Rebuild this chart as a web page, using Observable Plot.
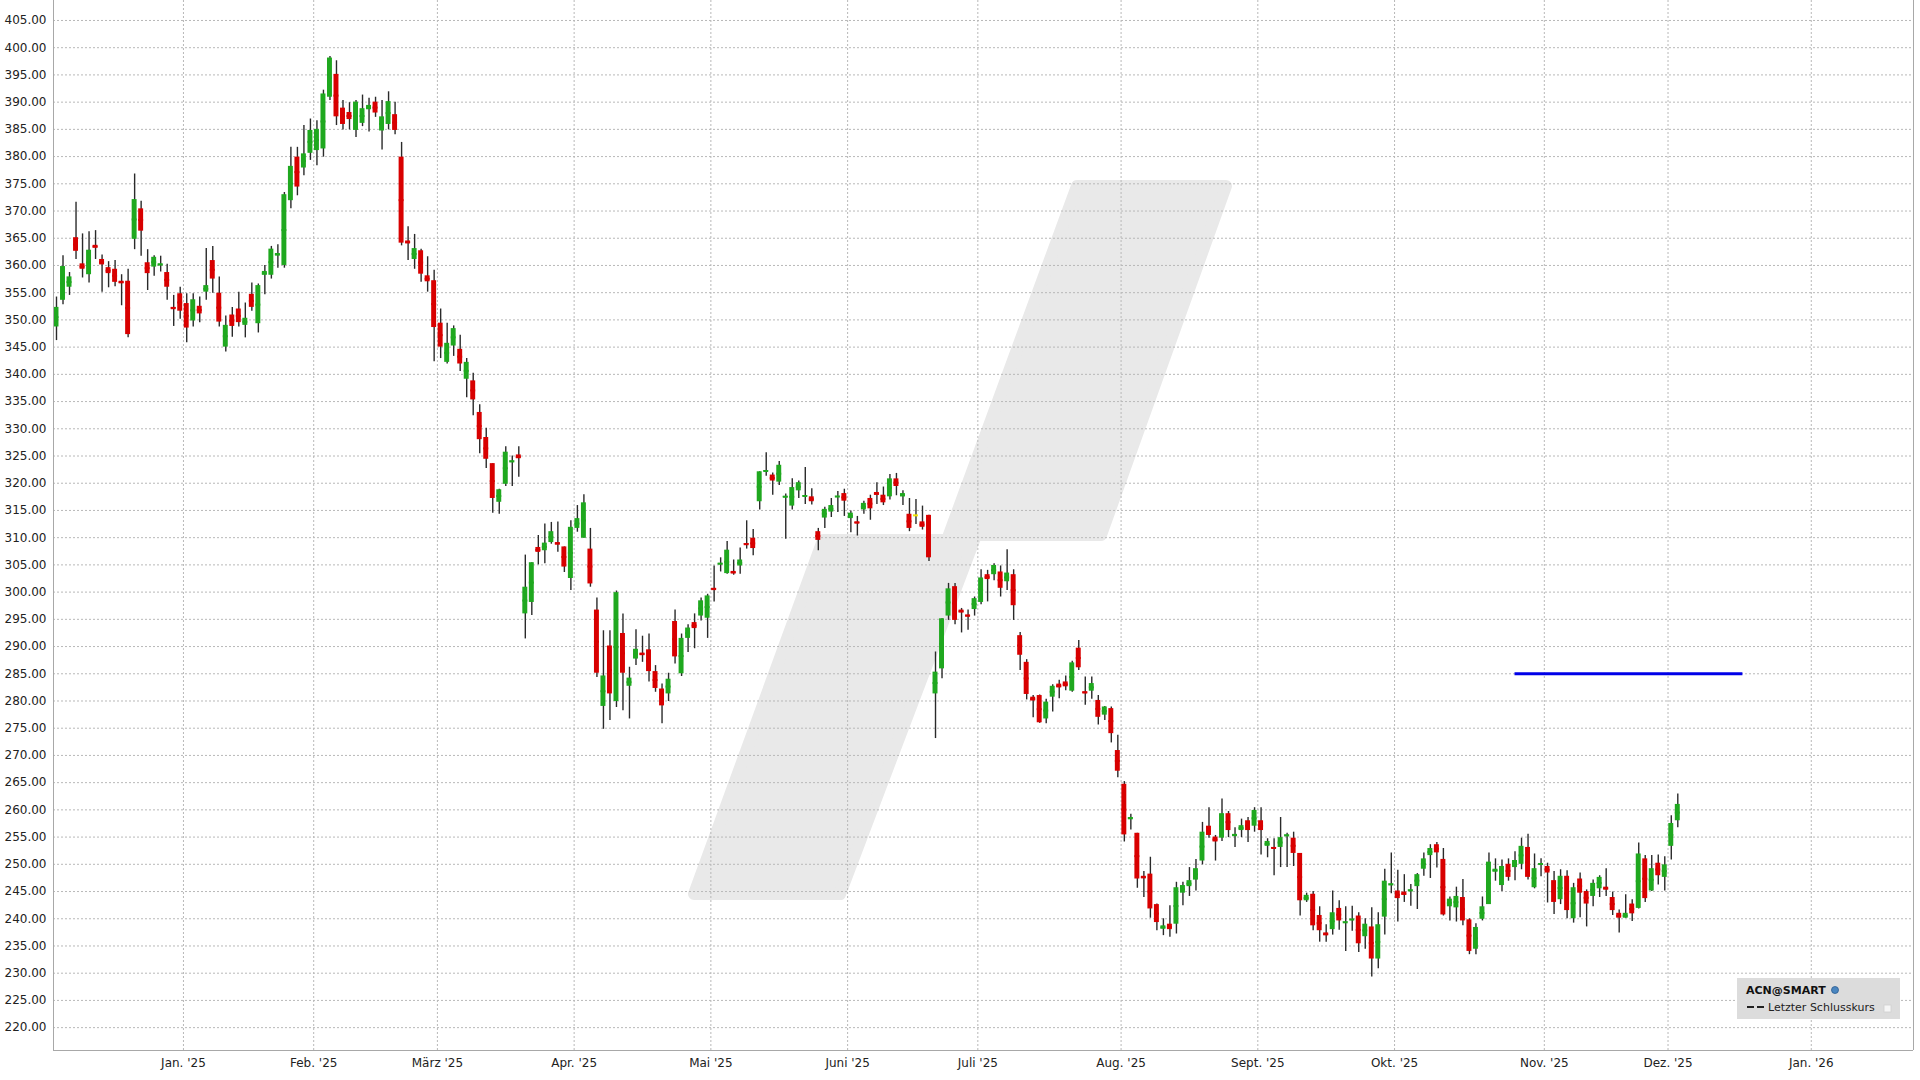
<!DOCTYPE html>
<html>
<head>
<meta charset="utf-8">
<script src="https://cdn.jsdelivr.net/npm/d3@7"></script>
<script src="https://cdn.jsdelivr.net/npm/@observablehq/plot@0.6"></script>
<style>
  html, body { margin: 0; padding: 0; background: #ffffff; overflow: hidden; }
  #chart { width: 1920px; height: 1080px; }
</style>
</head>
<body>
<div id="chart"></div>
<script>
// ---- DATA: daily candles (trading-day index 0 = 3 Dec 2024 ... 249 = 2 Dec 2025) ----
const open = [
  348.7,353.6,356.0,365.1,360.3,358.3,363.7,361.1,359.6,359.3,357.1,357.1,364.8,370.4,360.5,359.7,360.0,358.7,352.3,354.8,
  353.0,349.8,352.5,355.1,360.9,354.9,345.0,350.9,352.0,349.0,354.7,349.3,358.2,358.2,361.8,360.0,371.9,379.9,377.9,380.6,
  381.1,381.4,390.9,395.1,388.9,388.1,384.8,386.1,388.6,390.0,384.7,385.9,387.7,379.9,364.5,361.1,362.7,358.1,357.2,
  349.4,342.2,345.2,344.6,339.1,338.8,333.0,328.4,323.6,316.5,319.8,323.9,325.2,296.0,298.1,308.2,307.6,309.1,309.1,308.3,302.5,
  311.7,309.9,307.9,296.7,279.0,290.1,279.9,292.4,282.7,287.7,288.8,289.4,285.4,282.2,281.3,294.6,285.0,291.5,294.4,295.6,295.2,
  300.7,305.1,303.4,303.8,304.8,308.9,309.9,316.6,322.2,321.5,320.2,317.4,315.8,318.6,317.6,317.5,311.1,313.6,314.7,317.5,318.1,
  313.5,312.9,315.1,317.2,318.3,317.8,317.5,320.8,317.5,314.3,314.1,312.9,314.1,281.3,285.9,295.6,301.0,296.7,295.8,296.8,
  298.1,303.2,303.2,303.7,301.9,303.2,292.0,287.1,280.7,281.0,276.7,280.7,283.1,283.5,281.8,289.7,281.7,281.8,280.1,277.4,278.6,270.9,
  264.7,258.3,255.7,247.8,248.2,242.6,238.1,239.0,239.0,244.7,245.9,247.1,250.6,257.0,255.0,254.8,259.3,255.2,256.2,258.0,257.0,
  258.0,253.3,253.1,253.1,255.2,254.8,252.0,243.3,244.5,240.6,237.4,238.0,241.9,239.3,239.8,240.5,236.7,238.5,232.6,240.3,246.2,
  245.1,244.9,245.1,245.9,249.1,251.6,253.6,250.9,242.2,242.0,243.9,239.8,234.4,239.9,242.6,248.6,246.1,250.0,249.4,250.0,253.1,245.7,250.0,
  249.6,247.0,243.5,247.8,240.0,247.3,245.0,244.1,245.5,245.8,243.9,241.0,240.1,242.7,241.9,251.0,245.1,250.2,247.6,
  253.3,258.0
];
const high = [
  354.2,361.8,358.7,371.6,365.8,366.2,366.4,361.9,360.7,360.9,358.3,359.3,376.8,371.8,362.9,361.8,361.7,360.2,354.5,356.0,
  354.8,354.8,354.2,363.1,363.5,357.9,350.7,352.3,355.1,353.1,356.8,356.6,360.0,363.5,363.8,373.4,381.7,381.7,385.7,386.9,
  386.6,392.2,398.4,397.6,390.3,389.9,390.3,391.3,390.7,390.9,390.3,391.9,390.0,382.6,367.1,365.7,363.0,361.6,359.1,
  352.0,349.4,348.9,347.2,342.9,340.2,334.4,330.1,323.6,318.9,326.7,325.0,326.7,306.8,305.4,310.4,312.5,312.8,312.9,308.3,313.1,
  315.9,317.9,311.7,298.9,292.9,292.9,300.2,296.0,286.2,293.1,291.9,292.3,286.5,283.1,285.1,296.7,292.3,294.0,296.0,298.9,299.6,
  304.8,306.3,309.3,305.9,308.1,313.1,311.5,322.1,325.6,321.9,324.0,318.0,320.8,320.4,322.9,319.0,311.7,315.6,317.2,318.5,318.9,
  314.9,313.9,316.7,317.8,320.1,319.3,321.6,321.8,318.6,317.2,317.0,315.8,314.1,289.0,295.1,301.6,301.6,297.0,296.7,299.1,
  304.1,304.0,305.2,304.8,307.8,304.1,292.6,287.6,281.0,281.1,280.3,283.0,283.8,284.6,287.3,291.1,284.4,284.4,281.0,279.0,278.9,273.7,
  265.2,259.2,255.7,248.7,251.3,242.7,240.0,242.4,246.7,246.7,249.4,250.9,257.7,260.4,255.3,262.0,259.7,256.7,258.3,258.6,260.4,
  260.4,254.7,254.7,258.6,255.7,255.9,252.0,244.7,245.0,242.2,238.9,245.1,243.3,242.2,242.3,241.1,240.0,242.0,241.1,249.1,252.1,
  248.9,248.1,246.3,248.3,252.1,253.6,254.0,252.9,244.0,245.8,247.2,240.0,239.1,244.0,252.1,251.0,250.8,251.0,252.3,254.8,255.5,251.9,251.0,
  250.2,248.7,249.0,248.8,246.5,248.4,245.3,247.1,247.9,249.2,244.9,241.6,244.4,243.5,253.9,251.6,251.6,251.7,251.4,
  258.9,262.9
];
const low = [
  346.2,352.8,354.5,361.1,357.7,356.8,361.1,355.1,355.9,356.1,352.6,346.7,362.9,361.7,355.4,358.0,358.8,353.6,348.8,350.1,
  345.8,348.7,349.5,353.6,354.9,348.7,344.1,346.8,348.7,346.7,351.6,347.6,354.6,357.5,359.5,359.5,370.4,372.8,376.5,379.3,
  378.3,379.9,390.3,385.7,384.9,384.9,383.5,385.5,384.5,387.2,381.2,384.9,384.0,363.6,360.9,359.3,356.9,355.1,342.3,
  342.9,341.9,343.3,340.5,335.7,332.4,325.4,322.7,314.5,314.3,319.4,319.4,321.1,291.4,295.7,305.0,305.2,308.8,307.3,303.6,300.3,
  311.0,309.9,300.9,284.3,274.8,276.4,278.8,278.2,276.7,286.5,287.1,283.5,281.6,275.8,279.9,286.8,284.5,288.9,289.6,294.7,291.5,
  298.2,303.7,303.3,303.1,303.3,307.9,306.7,315.1,321.3,317.8,319.6,309.7,315.1,317.2,316.1,316.0,307.6,311.7,313.7,314.6,313.9,
  310.9,310.3,314.3,313.2,316.1,315.9,316.9,317.7,315.9,311.1,312.4,311.4,305.6,273.1,284.1,294.8,294.0,292.5,293.0,295.6,
  297.7,298.2,302.1,299.1,300.3,294.8,285.6,280.2,276.9,275.9,275.8,278.0,280.4,281.9,281.6,285.6,279.2,280.3,275.6,276.4,272.3,265.9,
  254.1,256.3,245.6,243.9,240.1,237.8,236.9,236.6,237.2,242.4,244.1,245.1,249.9,254.8,250.6,254.2,254.9,253.1,254.9,254.0,255.9,
  251.7,251.2,247.9,249.4,249.4,249.6,240.5,243.0,237.8,235.7,235.7,237.0,237.9,234.0,237.7,233.8,234.4,229.3,230.8,237.0,244.6,
  239.4,243.0,242.3,241.7,247.8,247.4,249.3,240.5,239.6,239.4,238.7,233.4,233.4,239.6,242.6,246.9,245.0,246.9,247.0,249.0,247.1,245.5,247.7,
  242.9,240.8,242.6,240.0,239.2,240.2,238.5,242.2,243.9,244.1,240.6,237.4,240.1,239.5,241.8,243.0,245.0,246.2,245.1,
  250.8,256.7
];
const close = [
  352.3,359.8,357.9,362.6,359.3,362.8,363.2,360.1,358.5,356.9,356.7,347.3,372.1,366.3,358.5,361.5,360.3,356.0,352.0,351.6,
  348.5,353.7,351.1,356.3,357.5,349.6,349.0,348.8,349.5,350.3,352.3,356.3,358.9,363.0,362.2,373.0,378.2,374.4,380.5,384.8,
  385.0,391.5,398.1,387.3,385.9,386.8,390.0,388.8,389.4,388.0,387.3,390.1,384.8,364.1,364.0,363.1,358.4,357.0,348.6,
  345.0,345.7,348.4,341.9,342.2,335.3,328.0,324.4,317.2,318.8,325.7,324.1,324.5,300.9,305.4,307.3,309.0,311.1,308.7,304.6,311.9,
  313.5,316.4,301.5,285.1,284.6,281.3,299.9,285.1,284.2,289.5,288.4,285.4,282.3,279.1,284.0,288.1,291.5,293.4,293.3,298.4,299.3,
  300.4,305.3,307.7,303.4,305.9,308.7,308.0,322.1,322.3,320.4,323.3,317.6,319.2,320.1,317.7,316.6,309.5,315.2,315.9,317.6,316.7,
  314.5,312.6,316.3,315.3,317.8,316.4,320.8,319.4,318.1,311.7,314.1,311.9,306.3,285.3,295.1,300.6,294.8,296.2,295.5,298.8,
  302.6,302.3,304.9,300.7,303.5,297.5,288.4,281.2,280.0,276.0,279.8,282.7,282.4,282.6,287.0,286.1,281.4,283.2,277.0,278.9,274.0,267.1,
  255.4,258.6,247.3,247.4,241.8,239.3,238.7,238.0,245.7,246.1,247.0,249.2,255.9,255.3,254.1,259.3,256.2,255.5,257.1,256.2,259.9,
  256.2,254.2,252.9,254.9,255.4,252.0,243.3,244.3,238.7,237.8,236.9,241.1,239.6,239.4,239.9,235.4,239.0,232.6,238.9,246.9,246.4,
  243.7,244.3,245.3,248.1,251.0,252.9,252.1,240.7,243.6,244.1,239.6,234.0,238.4,242.2,250.4,249.1,249.6,247.6,250.7,253.3,247.6,249.2,250.1,
  248.4,243.0,247.8,241.5,245.7,244.7,242.7,246.5,247.6,245.3,241.5,240.1,241.0,240.9,251.9,243.7,249.2,247.9,249.9,
  257.5,261.0
];

// Month axis: trading-day index of the first session of each month, and its label
const monthStart = [20, 40, 59, 80, 101, 122, 142, 164, 185, 206, 229, 248, 270];
const monthLabels = ["Jan. '25","Feb. '25","März '25","Apr. '25","Mai '25","Juni '25","Juli '25","Aug. '25","Sept. '25","Okt. '25","Nov. '25","Dez. '25","Jan. '26"];

// Price axis ticks
const yTicks = [220,225,230,235,240,245,250,255,260,265,270,275,280,285,290,295,300,305,310,315,320,325,330,335,340,345,350,355,360,365,370,375,380,385,390,395,400,405];

// Horizontal level line (blue)
const levelFrom = [224];
const levelTo = [259];
const levelValue = [285.0];

// Legend texts
const legendTitle = "ACN@SMART";
const legendItem = "Letzter Schlusskurs";

// ---- build table ----
const candles = open.map((o, i) => ({i, o, h: high[i], l: low[i], c: close[i]}));
const level = levelValue.map((v, k) => ({from: levelFrom[k], to: levelTo[k], value: v}));
const gridPos = monthStart.map(m => m - 0.5);
const labelByPos = new Map(gridPos.map((p, k) => [p, monthLabels[k]]));

const GREEN = "#1fa81f", RED = "#d80000", YELLOW = "#f2e600";
const col = d => d.c > d.o ? GREEN : (d.c < d.o ? RED : YELLOW);
const HALF = 0.38;

const W = 1920, H = 1080;
const chart = Plot.plot({
  width: W,
  height: H,
  marginLeft: 53,
  marginRight: 7,
  marginTop: 0,
  marginBottom: 30,
  style: {fontFamily: "'DejaVu Sans', Verdana, sans-serif", fontSize: "12px", color: "#222", background: "#ffffff"},
  x: {type: "linear", domain: [-0.46, 285.2]},
  y: {type: "linear", domain: [215.8, 408.67]},
  marks: [
    Plot.gridY(yTicks, {stroke: "#b8b8b8", strokeOpacity: 1, strokeDasharray: "2,2"}),
    Plot.gridX(gridPos, {stroke: "#b8b8b8", strokeOpacity: 1, strokeDasharray: "2,2"}),
    Plot.ruleX(candles, {x: "i", y1: "l", y2: "h", stroke: "#2a2a2a", strokeWidth: 1.4}),
    Plot.ruleY(candles, {x1: d => d.i - HALF, x2: d => d.i + HALF, y: d => (d.o + d.c) / 2, stroke: col, strokeWidth: 2}),
    Plot.rect(candles, {x1: d => d.i - HALF, x2: d => d.i + HALF, y1: "o", y2: "c", fill: col}),
    Plot.ruleY(level, {x1: "from", x2: "to", y: "value", stroke: "#0000e8", strokeWidth: 3}),
    Plot.axisY(yTicks, {tickFormat: d => d.toFixed(2), tickSize: 0, tickPadding: 7, fill: "#222", fontSize: 12}),
    Plot.axisX(gridPos, {tickFormat: d => labelByPos.get(d), tickSize: 0, tickPadding: 8, fill: "#222", fontSize: 12}),
    Plot.ruleX([-0.46], {stroke: "#a8a8a8", strokeWidth: 1}),
    Plot.ruleX([285.2], {stroke: "#a8a8a8", strokeWidth: 1}),
    Plot.ruleY([215.8], {stroke: "#a8a8a8", strokeWidth: 1})
  ]
});

document.getElementById("chart").appendChild(chart);

const svg = d3.select(chart);
// Watermark logo (decorative, behind everything)
svg.insert("path", ":first-child")
  .attr("d", "M694,894 L823,540 L947,540 L1077,186 L1226,186 L1101,535 L976,535 L840,894 Z")
  .attr("fill", "#e9e9e9")
  .attr("stroke", "#e9e9e9")
  .attr("stroke-width", 12)
  .attr("stroke-linejoin", "round");
svg.insert("rect", ":first-child")
  .attr("x", 0).attr("y", 0).attr("width", W).attr("height", H).attr("fill", "#ffffff");

// Legend box (bottom right)
const lg = svg.append("g")
  .attr("font-family", "'DejaVu Sans', Verdana, sans-serif")
  .attr("text-anchor", "start");
lg.append("rect").attr("x", 1737).attr("y", 978).attr("width", 163).attr("height", 41).attr("fill", "#dcdcdc");
lg.append("text").attr("x", 1746).attr("y", 994).attr("text-anchor", "start").attr("font-size", 11).attr("font-weight", "bold").attr("fill", "#111").text(legendTitle);
lg.append("circle").attr("cx", 1835).attr("cy", 990).attr("r", 3.5).attr("fill", "#4a86c0").attr("stroke", "#2a5a90").attr("stroke-width", 0.8);
lg.append("line").attr("x1", 1747).attr("x2", 1754).attr("y1", 1007).attr("y2", 1007).attr("stroke", "#222").attr("stroke-width", 2);
lg.append("line").attr("x1", 1757).attr("x2", 1764).attr("y1", 1007).attr("y2", 1007).attr("stroke", "#222").attr("stroke-width", 2);
lg.append("text").attr("x", 1768).attr("y", 1011).attr("text-anchor", "start").attr("font-size", 11).attr("fill", "#222").text(legendItem);
lg.append("rect").attr("x", 1884).attr("y", 1005).attr("width", 7).attr("height", 7).attr("fill", "#f6f6f6").attr("stroke", "#d0d0d0").attr("stroke-width", 0.8);
</script>
</body>
</html>
